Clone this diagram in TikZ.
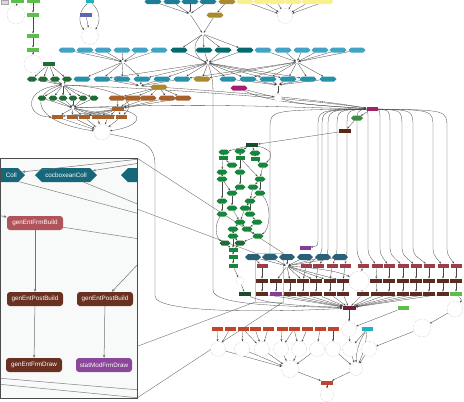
\documentclass[tikz,border=0pt]{standalone}
\usepackage{fontspec}
\setmainfont{Liberation Sans}
\usetikzlibrary{shapes.geometric,shapes.symbols,arrows.meta}
\pgfdeclarelayer{edges}
\pgfdeclarelayer{inset}
\pgfsetlayers{edges,main,inset}

\definecolor{lgreen}{HTML}{5DBE4B}
\definecolor{dgreen}{HTML}{1F6B35}
\definecolor{mgreen}{HTML}{15873C}
\definecolor{vdgreen}{HTML}{1C4A2C}
\definecolor{lblue}{HTML}{42A3C4}
\definecolor{mteal}{HTML}{2592AA}
\definecolor{dteal}{HTML}{036A6E}
\definecolor{tteal}{HTML}{1D7E97}
\definecolor{gold}{HTML}{A98A2D}
\definecolor{lyellow}{HTML}{F8F08C}
\definecolor{brownA}{HTML}{A8612A}
\definecolor{magA}{HTML}{A3216F}
\definecolor{magB}{HTML}{9E2464}
\definecolor{grn2}{HTML}{3D8B40}
\definecolor{dbrown}{HTML}{5A2616}
\definecolor{slate}{HTML}{2B6079}
\definecolor{redA}{HTML}{9E3C47}
\definecolor{dbrownB}{HTML}{5E2B20}
\definecolor{maroon}{HTML}{6E1E40}
\definecolor{redor}{HTML}{C0452D}
\definecolor{cyanA}{HTML}{1BB3BF}
\definecolor{purpA}{HTML}{863E94}
\definecolor{blueP}{HTML}{6064B4}
\definecolor{iRed}{HTML}{B0535A}
\definecolor{iBrown}{HTML}{6A3122}
\definecolor{iPurple}{HTML}{8B479A}
\definecolor{iHex}{HTML}{17677B}
\definecolor{insetbg}{HTML}{F8F9F9}

\begin{document}
\begin{tikzpicture}[x=1pt,y=-1pt,
  hx/.style={signal,signal to=west and east,inner sep=0pt,minimum width=17pt,minimum height=5pt,fill=#1,draw=none},
  bx/.style={rectangle,inner sep=0pt,minimum width=12pt,minimum height=4.5pt,fill=#1,draw=none},
  ring/.style={circle,draw=gray!60,densely dotted,line width=0.4pt,minimum size=#1,inner sep=0pt,fill=white},
  hub/.style={circle,inner sep=0pt,minimum size=2.5pt,fill=white},
  ed/.style={draw=black!72,line width=0.3pt,-{Stealth[length=2.2pt,width=1.8pt]}},
  leader/.style={draw=black!55,line width=0.4pt},
  ibox/.style={rectangle,rounded corners=3pt,minimum width=56pt,minimum height=14pt,inner sep=1pt,text=white,font=\fontsize{6.3}{7}\selectfont,fill=#1},
  ihex/.style={signal,signal to=west and east,minimum width=62pt,minimum height=14pt,inner sep=1pt,fill=iHex,text=white,font=\fontsize{6.3}{7}\selectfont},
  itxt/.style={text=white,font=\fontsize{6.3}{7}\selectfont,inner sep=0pt},
  ie/.style={draw=black!55,line width=0.5pt,-{Stealth[length=3pt,width=2.6pt]}},
  il/.style={draw=black!50,line width=0.5pt}]
\useasboundingbox (0,0) rectangle (464,402);

% ---------- upper left chains ----------
\node[bx=gray!30,draw=gray!70,line width=0.3pt,minimum width=7pt,minimum height=4pt] (key) at (5,2) {};
\node[bx=lgreen,minimum width=13pt] (g1) at (17,1) {};
\node[ring=18pt] (c1) at (16,15) {};
\node[bx=lgreen,minimum width=13pt] (g2) at (33,1) {};
\node[bx=lgreen] (g3) at (33,15) {};
\node[bx=lgreen] (g4) at (33,36) {};
\node[bx=lgreen] (g5) at (33,50) {};
\node[ring=18pt] (c2) at (33,64) {};
\node[bx=cyanA,minimum width=8pt] (cy1) at (90,1) {};
\node[bx=blueP] (bp) at (86,15) {};
\node[ring=17pt] (c3) at (90,36) {};

% ---------- top row ----------
\foreach \x [count=\i] in {153,172,190,208} \node[hx=tteal] (tt\i) at (\x,1.5) {};
\node[hub] (h1) at (190,14) {};
\node[hx=gold] (gd1) at (227,1.5) {};
\node[hx=gold] (gd2) at (215,15) {};
\node[hub] (h2) at (203,34) {};
\foreach \x [count=\i] in {245,262,277,293,310,325} \node[hx=lyellow] (yw\i) at (\x,1.5) {};
\node[ring=15pt] (c4) at (285,16) {};

% ---------- second row ----------
\foreach \x [count=\i] in {67,85,103,122,140,159} \node[hx=lblue] (la\i) at (\x,50) {};
\foreach \x [count=\i] in {179,204,223,245} \node[hx=dteal] (dt\i) at (\x,50) {};
\foreach \x [count=\i] in {263,283,302,320,338,357} \node[hx=lblue] (lb\i) at (\x,50) {};
\node[hub] (h3) at (123,62) {};
\node[hub] (h4) at (208,63) {};
\node[hub] (h5) at (297,62) {};

% ---------- third row ----------
\node[bx=dgreen] (dgr) at (49,64) {};
\foreach \x [count=\i] in {32,43,55,67} \node[hx=dgreen,minimum width=10pt] (dga\i) at (\x,79) {};
\foreach \x [count=\i] in {82,102,122,142,162,182} \node[hx=mteal] (ta\i) at (\x,79) {};
\node[hx=gold] (gd3) at (202,79) {};
\foreach \x [count=\i] in {228,248,268,288,308,328} \node[hx=mteal] (tb\i) at (\x,79) {};
\node[hub] (h6) at (140,86) {};
\node[hub] (h7) at (278,85) {};
\node[hub] (h8) at (63,85) {};
\node[hx=gold] (gd4) at (159,87) {};
\node[hx=magA] (mg1) at (239,88) {};
\node[ring=8pt] (c5) at (278,98) {};

% ---------- fourth row ----------
\foreach \x [count=\i] in {42,53,63,73,83,94} \node[hx=dgreen,minimum width=9pt] (dgb\i) at (\x,98) {};
\foreach \x [count=\i] in {117,133,148,167,183} \node[hx=brownA] (bra\i) at (\x,98) {};
\node[hub] (h9) at (73,108) {};
\node[bx=brownA] (brx) at (118,109) {};
\foreach \x [count=\i] in {57,72,84,97,108,121} \node[bx=brownA,minimum width=11pt] (brb\i) at (\x,117) {};
\node[ring=16pt] (c6) at (102,132) {};

% ---------- right middle ----------
\node[bx=magB,minimum width=11pt] (mr) at (372,109) {};
\node[hx=grn2,minimum width=12pt] (ge) at (357,118) {};
\node[bx=dbrown] (dbr) at (345,131) {};
\node[bx=vdgreen] (dgt) at (252,145) {};

% ---------- green cluster ----------
\foreach \n/\x/\y in {1/224/152,2/240/151,3/255/153,7/232/165,8/263/165,9/222/172,10/240/172,
  11/222/179,12/260/179,13/240/187,14/253/187,15/232/193,16/260/193,17/222/201,18/250/201,
  19/232/208,20/245/208,21/222/214,22/250/214,23/240/222,24/257/222,25/233/229,26/247/229,
  27/233/236,28/258/236}
  \node[hx=mgreen,minimum width=11pt] (k\n) at (\x,\y) {};
\foreach \n/\x/\y in {29/225/243,30/240/243}
  \node[hx=dgreen,minimum width=11pt] (k\n) at (\x,\y) {};
\foreach \n/\x/\y in {4/223/158,5/240/158,6/255/159,31/233/250,32/233/257,33/233/266}
  \node[bx=mgreen,minimum width=9pt] (k\n) at (\x,\y) {};
\node[ring=8pt] (c7) at (240,281) {};

% ---------- lower band ----------
\node[bx=purpA,minimum width=11pt] (pu) at (305,248) {};
\foreach \x [count=\i] in {253,270,287,305,323,340} \node[hx=slate,minimum width=16pt,minimum height=6pt] (sl\i) at (\x,257) {};
\node[hub] (h10) at (287,266) {};
\node[bx=redA,minimum width=11pt] (r0) at (262,266) {};
\foreach \x [count=\i] in {306,318,332,345,363,377,389,403,416,429,443,456}
  \node[bx=redA,minimum width=11pt] (r\i) at (\x,266) {};
\node[ring=20pt] (c8) at (359,281) {};
\foreach \x [count=\i from 0] in {262,276,290,303,316,330,343,376,389,403,416,429,443,456}
  \node[bx=dbrownB] (d\i) at (\x,281) {};
\node[bx=vdgreen] (dg2) at (245,294) {};
\node[bx=dbrownB] (q0) at (262,294) {};
\node[bx=purpA] (q1) at (276,294) {};
\foreach \x [count=\i from 2] in {290,303,316,330,343,363,377,389,403,416,429,443}
  \node[bx=dbrownB] (q\i) at (\x,294) {};
\node[bx=lgreen] (q14) at (456,294) {};

\node[bx=maroon,minimum width=13pt] (mh) at (349,308) {};
\node[bx=lgreen,minimum width=11pt] (lg2) at (403,308) {};
\node[ring=16pt] (c10) at (455,309) {};
\node[ring=15pt] (c9) at (349,329) {};
\node[bx=cyanA,minimum width=11pt] (cy2) at (367,329) {};
\node[ring=18pt] (c11) at (422,328) {};
\foreach \x [count=\i] in {217,230,243,255,268,282,294,307,320,333}
  \node[bx=redor,minimum width=11pt] (o\i) at (\x,329) {};
\foreach \x [count=\i] in {218,242,262,281,299,317,333,350,369}
  \node[ring=15pt] (e\i) at (\x,349) {};
\node[ring=13pt] (c15) at (356,369) {};
\node[ring=17pt] (c16) at (290,369) {};
\node[bx=redor] (ro) at (327,383) {};
\node[ring=13pt] (c17) at (327,395) {};

% ---------- connectors ----------
\begin{pgfonlayer}{edges}
\fill[white] (0,0) rectangle (464,402);
% zoom leaders and the magnified region
\draw[leader] (0,158) -- (255,253);
\draw[leader] (137,158) -- (283,253);
\draw[leader] (0,398) -- (255,302);
\draw[leader] (137,398) -- (283,302);
\draw[draw=gray!45,line width=0.4pt] (255,253) rectangle (283,302);

\draw[ed] (g1) -- (c1);
\draw[ed] (g2) -- (g3);
\draw[ed] (g3) -- (g4);
\draw[ed] (g4) -- (g5);
\draw[ed] (g5) -- (c2);
\draw[ed] (cy1) to[bend right=45] (c3);
\draw[ed] (cy1) to[bend left=40] (c3);
\draw[ed] (bp) -- (c3);

\foreach \i in {1,...,4} \draw[ed] (tt\i) -- (h1);
\draw[ed] (gd1) -- (gd2);
\draw[ed] (gd2) -- (h2);
\draw[ed] (h1) -- (h2);
\foreach \i in {1,...,6} \draw[ed] (yw\i) -- (c4);
\foreach \i in {1,...,4} \draw[ed] (h2) -- (dt\i);
\draw[ed] (h2) .. controls (190,45) and (195,58) .. (h4);

\foreach \i in {1,...,6} \draw[ed] (la\i) -- (h3);
\foreach \i in {1,...,4} \draw[ed] (dt\i) -- (h4);
\foreach \i in {1,...,6} \draw[ed] (lb\i) -- (h5);

\foreach \i in {1,...,4} \draw[ed] (h3) -- (ta\i);
\foreach \n in {ta2,ta4,ta5,ta6,gd3,tb1,tb2,tb3,tb4,tb5} \draw[ed] (h4) -- (\n);
\foreach \n in {tb2,tb3,tb4,tb5,tb6,gd3,ta6} \draw[ed] (h5) -- (\n);
\foreach \i in {2,...,6} \draw[ed] (ta\i) -- (h6);
\foreach \i in {1,...,6} \draw[ed] (tb\i) -- (h7);
\draw[ed] (h7) -- (c5);
\draw[ed] (mg1) -- (c5);
\draw[ed] (c5) .. controls (300,104) .. (mr);
\draw[ed] (mg1) .. controls (270,104) and (330,106) .. (mr);
\draw[ed] (h6) .. controls (240,92) and (320,100) .. (mr);
\draw[ed] (h8) .. controls (150,88) and (300,98) .. (mr);
\draw[ed] (h9) .. controls (200,102) and (300,108) .. (mr);

\foreach \i in {1,...,5} \draw[ed] (gd4) -- (bra\i);
\foreach \i in {1,...,5} \draw[ed] (bra\i) -- (brx);
\foreach \i in {1,...,6} \draw[ed] (brx) -- (brb\i);
\foreach \i in {1,...,6} \draw[ed] (brb\i) -- (c6);

\foreach \i in {1,...,4} \draw[ed] (dgr) -- (dga\i);
\foreach \i in {1,...,4} \draw[ed] (dga\i) -- (h8);
\foreach \i in {1,...,6} \draw[ed] (h8) -- (dgb\i);
\foreach \i in {1,...,6} \draw[ed] (dgb\i) -- (h9);
\foreach \i in {1,...,6} \draw[ed] (h9) -- (brb\i);
\draw[ed] (h8) .. controls (22,88) and (25,117) .. (brb1);
\draw[ed] (h8) .. controls (30,92) and (30,122) .. (c6);
\draw[ed] (h8) .. controls (110,86) and (140,100) .. (brb6);
\draw[ed] (h9) .. controls (150,104) and (150,125) .. (c6);

% right-hand chain into the green cluster
\draw[ed] (mr) -- (ge);
\draw[ed] (ge) -- (dbr);
\draw[ed] (dbr) -- (dgt);

% long drops
\draw[ed] (h4) .. controls (213,80) .. (213,105) -- (213,290) .. controls (213,306) and (290,306) .. (mh);
\draw[ed] (c6) .. controls (135,140) and (155,140) .. (155,165) -- (155,296) .. controls (155,314) and (280,312) .. (mh);

% fan from the magenta box
\foreach \tg/\xv in {sl2/270,r1/322,r2/328,r3/337,r4/347,r5/357,r6/368,r7/380,r8/390,r9/402,r10/413,r11/433,r12/447}
  \draw[ed] (mr) .. controls (\xv,110) .. (\xv,128) -- (\xv,244) .. controls (\xv,254) .. (\tg);
\draw[ed] (mr) .. controls (318,110) .. (318,128) -- (318,236) .. controls (318,246) .. (pu);

% green cluster
\foreach \n in {k1,k2,k3} \draw[ed] (dgt) -- (\n);
\draw[ed] (dgt) .. controls (275,150) and (272,158) .. (k8);
\foreach \a/\b in {k1/k4,k2/k5,k3/k6,k4/k7,k4/k9,k5/k10,k6/k8,k5/k12,k9/k11,k10/k13,k8/k12,
  k12/k14,k12/k16,k11/k15,k13/k15,k14/k18,k16/k18,k11/k17,k15/k19,k17/k21,k18/k20,k18/k22,
  k19/k23,k20/k23,k22/k24,k23/k25,k23/k26,k24/k26,k25/k27,k26/k28,k27/k30,k28/k30,k27/k31,
  k30/k31,k31/k32,k32/k33}
  \draw[ed] (\a) -- (\b);
\draw[ed] (k21) .. controls (214,225) and (216,238) .. (k29);
\draw[ed] (k29) -- (k31);
\draw[ed] (k16) .. controls (272,205) and (270,230) .. (k28);
\draw[ed] (k33) -- (c7);
\draw[ed] (c7) -- (dg2);
\draw[ed] (dg2) .. controls (270,306) and (320,306) .. (mh);

% lower band
\foreach \i in {1,...,6} \draw[ed] (sl\i) -- (h10);
\draw[ed] (sl1) -- (r0);
\foreach \i in {1,...,6} \draw[ed] (h10) -- (d\i);
\draw[ed] (h10) .. controls (320,268) and (340,272) .. (c8);
\draw[ed] (r0) -- (d0);
\foreach \a/\b in {r1/d3,r2/d4,r3/d5,r4/d6,r5/c8,r6/d7,r7/d8,r8/d9,r9/d10,r10/d11,r11/d12,r12/d13}
  \draw[ed] (\a) -- (\b);
\foreach \a/\b in {d0/q0,d1/q1,d2/q2,d3/q3,d4/q4,d5/q5,d6/q6,c8/q7,d7/q8,d8/q9,d9/q10,d10/q11,d11/q12,d12/q13,d13/q14}
  \draw[ed] (\a) -- (\b);
\foreach \i in {0,...,13} \draw[ed] (q\i) -- (mh);
\draw[ed] (q14) .. controls (462,300) .. (c10);
\draw[ed] (c10) -- (c11);
\draw[ed] (c11) -- (e9);
\draw[ed] (lg2) -- (c9);
\draw[ed] (mh) -- (c9);
\draw[ed] (c9) -- (e8);
\draw[ed] (cy2) -- (e8);
\draw[ed] (cy2) to[bend right=15] (c15);
\draw[ed] (cy2) to[bend left=10] (c15);
\foreach \i in {7,8,9} \draw[ed] (e\i) -- (c15);
\foreach \a/\b in {o1/e1,o2/e1,o3/e2,o3/e3,o4/e3,o5/e3,o6/e4,o7/e4,o7/e5,o8/e5,o9/e6,o10/e7}
  \draw[ed] (\a) -- (\b);
\foreach \i in {1,...,6} \draw[ed] (e\i) -- (c16);
\draw[ed] (c15) -- (ro);
\draw[ed] (c16) -- (ro);
\draw[ed] (ro) -- (c17);
\end{pgfonlayer}

% ---------- magnified inset ----------
\begin{pgfonlayer}{inset}
\fill[insetbg] (0,158) rectangle (137,398);
\begin{scope}
\clip (0,158) rectangle (137,398);
\node[ihex] (ia) at (-6,175) {};
\node[itxt,anchor=east] (iat) at (17,175) {Coll};
\node[ihex] (ib) at (66,175) {cocboxeanColl};
\node[ihex] (ic) at (152,175) {};
\node[ibox=iRed] (i1) at (35,223) {genEntFrmBuild};
\node[ibox=iBrown] (i2) at (35,299) {genEntPostBuild};
\node[ibox=iBrown] (i3) at (105,299) {genEntPostBuild};
\node[ibox=iBrown] (i4) at (34,365) {genEntFrmDraw};
\node[ibox=iPurple] (i5) at (104,365) {statModFrmDraw};
\coordinate (ip1) at (140,159);
\coordinate (ip2) at (140,163);
\coordinate (ip3) at (140,214);
\coordinate (ip4) at (140,205);
\coordinate (ip5) at (140,239);
\coordinate (ip6) at (140,262);
\coordinate (ip7) at (-3,215);
\coordinate (ip8) at (-3,378);
\coordinate (ip9) at (140,390);
\coordinate (ip10) at (-3,384);
\coordinate (ip11) at (140,398);
\draw[ie] (ip1) -- (ia);
\draw[ie] (ip2) -- (ib);
\draw[il] (ia) -- (ip3);
\draw[il] (ib) -- (ip4);
\draw[il] (i1) -- (ip5);
\draw[ie] (ip6) -- (i3);
\draw[ie] (ip7) -- (i1);
\draw[ie] (i1) -- (i2);
\draw[ie] (i2) -- (i4);
\draw[ie] (i3) -- (i5);
\draw[il] (ip8) -- (ip9);
\draw[il] (ip10) -- (ip11);
\end{scope}
\draw[black!70,line width=0.9pt] (0,158) rectangle (137,398);
\end{pgfonlayer}
\end{tikzpicture}
\end{document}
